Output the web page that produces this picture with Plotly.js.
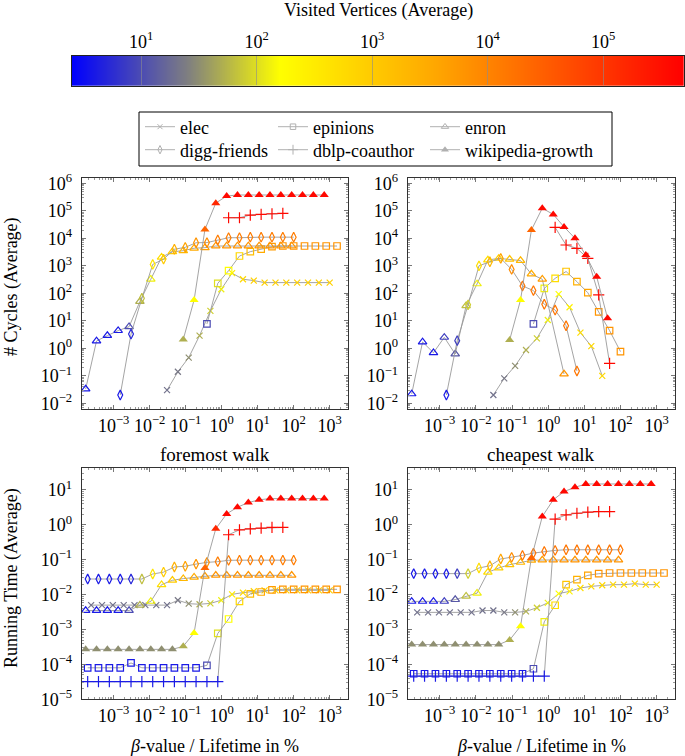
<!DOCTYPE html>
<html><head><meta charset="utf-8">
<script src="https://cdn.plot.ly/plotly-3.0.1.min.js"></script>
<style>html,body{margin:0;padding:0;background:#fff}#chart{width:685px;height:756px}</style>
</head><body><div id="chart"></div>
<script>
const N = null;
const FONT = '"Liberation Serif", "DejaVu Serif", serif';

// ---------- colour bar (log10 of visited vertices) ----------
const colorbarLogRange = [0.398, 5.70];
const colorbarTickVals = [1, 2, 3, 4, 5];
const colorbarTickText = ['10<sup>1</sup>', '10<sup>2</sup>', '10<sup>3</sup>', '10<sup>4</sup>', '10<sup>5</sup>'];

// ---------- axis ticks ----------
const xTickVals = [1e-3, 1e-2, 1e-1, 1, 10, 100, 1000];
const xTickText = ['10<sup>−3</sup>', '10<sup>−2</sup>', '10<sup>−1</sup>', '10<sup>0</sup>', '10<sup>1</sup>', '10<sup>2</sup>', '10<sup>3</sup>'];
const cycleTickVals = [1e-2, 1e-1, 1, 10, 1e2, 1e3, 1e4, 1e5, 1e6];
const cycleTickText = ['10<sup>−2</sup>', '10<sup>−1</sup>', '10<sup>0</sup>', '10<sup>1</sup>', '10<sup>2</sup>', '10<sup>3</sup>', '10<sup>4</sup>', '10<sup>5</sup>', '10<sup>6</sup>'];
const timeTickVals = [1e-5, 1e-4, 1e-3, 1e-2, 1e-1, 1, 10];
const timeTickText = ['10<sup>−5</sup>', '10<sup>−4</sup>', '10<sup>−3</sup>', '10<sup>−2</sup>', '10<sup>−1</sup>', '10<sup>0</sup>', '10<sup>1</sup>'];

// ---------- data: elec ----------
const elecBeta = [0.000238,0.000477,0.000954,0.00191,0.00381,0.00763,0.0153,0.0305,0.061,0.122,0.244,0.488,0.977,1.95,3.91,7.81,15.6,31.3,62.5,125,250,500,1000];
const elecForemostVisited = [1.3,1.3,1.3,1.3,1.3,1.3,1.3,1.3,1.35,1.5,1.7,1.9,2.1,2.5,2.8,2.9,2.9,2.9,2.9,2.9,2.9,2.9,2.9];
const elecForemostCycles = [N,N,N,N,N,N,N,0.030,0.14,0.46,2.9,23,140,540,325,290,245,245,245,245,245,245,245];
const elecForemostTime = [0.0050,0.0050,0.0050,0.0050,0.0050,0.0050,0.0050,0.0050,0.0069,0.0055,0.0053,0.0056,0.0069,0.0102,0.0114,0.0125,0.0133,0.0133,0.0133,0.0133,0.0133,0.0133,0.0133];
const elecCheapestVisited = [1.3,1.3,1.3,1.3,1.3,1.3,1.3,1.3,1.35,1.5,1.7,1.9,2.1,2.2,2.4,2.7,2.8,2.8,2.8,2.8,2.8,2.8,2.8];
const elecCheapestCycles = [N,N,N,N,N,N,N,0.020,0.081,0.23,0.87,2.3,10.7,94,31,3.7,1.2,0.10,N,N,N,N,N];
const elecCheapestTime = [0.0031,0.0031,0.0031,0.0031,0.0031,0.0031,0.0035,0.0035,0.0031,0.0031,0.0033,0.0042,0.0058,0.0107,0.0124,0.0155,0.0173,0.0185,0.0193,0.0193,0.0206,0.0193,0.0193];

// ---------- data: epinions ----------
const epinionsBeta = [0.000191,0.000381,0.000763,0.00153,0.00305,0.0061,0.0122,0.0244,0.0488,0.0977,0.195,0.391,0.781,1.56,3.13,6.25,12.5,25,50,100,200,400,800,1600];
const epinionsForemostVisited = [0.6,0.6,0.6,0.6,0.6,0.6,0.6,0.6,0.6,0.6,0.6,1.0,2.0,2.2,2.8,3.2,3.5,3.7,3.8,3.8,3.8,3.8,3.8,3.8];
const epinionsForemostCycles = [N,N,N,N,N,N,N,N,N,N,N,7.7,230,665,2270,3270,4070,4960,5250,5250,5250,5250,5250,5250];
const epinionsForemostTime = [8.0e-5,8.0e-5,8.0e-5,8.0e-5,1.1e-4,8.0e-5,8.0e-5,8.0e-5,8.0e-5,8.0e-5,8.0e-5,9.4e-5,7.7e-4,2.0e-3,6.4e-3,1.05e-2,1.19e-2,1.36e-2,1.42e-2,1.42e-2,1.42e-2,1.42e-2,1.42e-2,1.42e-2];
const epinionsCheapestVisited = [0.6,0.6,0.6,0.6,0.6,0.6,0.6,0.6,0.6,0.6,0.6,1.0,2.1,2.7,3.1,3.4,3.6,3.8,3.8,3.8,3.8,3.8,3.8,3.8];
const epinionsCheapestCycles = [N,N,N,N,N,N,N,N,N,N,N,7.7,150,350,620,265,105,21,4.4,0.76,N,N,N,N];
const epinionsCheapestTime = [5.4e-5,5.4e-5,5.4e-5,5.4e-5,5.4e-5,5.4e-5,5.4e-5,5.4e-5,5.4e-5,5.4e-5,5.4e-5,7.5e-5,1.66e-3,4.95e-3,0.0193,0.0268,0.0357,0.0398,0.0416,0.0416,0.0416,0.0416,0.0416,0.0416];

// ---------- data: enron ----------
const enronBeta = [0.000168,0.000336,0.000672,0.00134,0.00269,0.00538,0.0108,0.0215,0.043,0.086,0.172,0.344,0.688,1.38,2.75,5.51,11,22,44,88.1];
const enronForemostVisited = [0.6,0.6,0.6,0.6,1.0,1.7,2.1,2.7,3.0,3.3,3.5,3.7,3.8,3.8,3.8,3.8,3.8,3.8,3.8,3.8];
const enronForemostCycles = [0.033,1.85,2.9,4.4,6.1,50,325,2040,3240,3540,4360,4570,5250,5250,5250,5250,5250,5250,5250,5250];
const enronForemostTime = [3.5e-3,3.5e-3,3.5e-3,3.5e-3,3.5e-3,4.95e-3,6.4e-3,0.0193,0.0257,0.0287,0.0315,0.0334,0.0357,0.0357,0.0357,0.0357,0.0357,0.0357,0.0357,0.0357];
const enronCheapestVisited = [0.6,0.6,0.6,0.9,1.1,1.8,2.1,2.7,2.9,3.1,3.3,3.5,3.7,3.8,3.8,3.8,3.8,3.8,3.8,3.8];
const enronCheapestCycles = [0.022,1.7,0.69,2.5,0.62,35,220,1620,1860,1730,1550,500,325,N,0.116,N,N,N,N,N];
const enronCheapestTime = [6.4e-3,6.4e-3,6.4e-3,6.4e-3,7.2e-3,9.0e-3,0.011,0.0435,0.058,0.072,0.084,0.096,0.098,0.098,0.098,0.098,0.098,0.098,0.098,0.098];

// ---------- data: digg-friends ----------
const diggBeta = [0.000191,0.000381,0.000763,0.00153,0.00305,0.0061,0.0122,0.0244,0.0488,0.0977,0.195,0.391,0.781,1.56,3.13,6.25,12.5,25,50,100];
const diggForemostVisited = [0.6,0.6,0.6,0.6,0.7,1.8,2.6,3.0,3.4,3.6,3.8,3.9,4.1,4.1,4.1,4.1,4.1,4.1,4.1,4.1];
const diggForemostCycles = [N,N,N,0.02,3.3,66,1120,1750,4000,4700,6900,7000,8700,10500,10500,11000,11000,11000,11000,11000];
const diggForemostTime = [0.028,0.028,0.028,0.028,0.028,0.028,0.039,0.044,0.062,0.065,0.075,0.084,0.088,0.096,0.097,0.097,0.097,0.097,0.097,0.097];
const diggCheapestVisited = [0.6,0.6,0.6,0.6,0.9,1.9,2.7,3.3,3.6,3.9,4.2,4.2,4.2,4.2,4.2,4.2,4.2,4.2,4.2,4.2];
const diggCheapestCycles = [N,N,N,0.02,1.9,38,1000,1400,1860,740,185,126,40,24.7,6.6,0.15,N,N,N,N];
const diggCheapestTime = [0.04,0.04,0.04,0.04,0.04,0.04,0.058,0.067,0.105,0.117,0.133,0.155,0.173,0.185,0.193,0.193,0.193,0.193,0.193,0.193];

// ---------- data: dblp-coauthor ----------
const dblpBeta = [0.000191,0.000381,0.000763,0.00153,0.00305,0.0061,0.0122,0.0244,0.0488,0.0977,0.195,0.391,0.781,1.56,3.13,6.25,12.5,25,50];
const dblpForemostVisited = [0.6,0.6,0.6,0.6,0.6,0.6,0.6,0.6,0.6,0.6,0.6,0.6,0.6,5.6,5.6,5.6,5.6,5.6,5.6];
const dblpForemostCycles = [N,N,N,N,N,N,N,N,N,N,N,N,N,56000,56000,70000,74000,78000,80000];
const dblpForemostTime = [3.2e-5,3.2e-5,3.2e-5,3.2e-5,3.2e-5,3.2e-5,3.2e-5,3.2e-5,3.2e-5,3.2e-5,3.2e-5,3.2e-5,3.2e-5,0.52,0.72,0.77,0.80,0.84,0.84];
const dblpCheapestVisited = [0.6,0.6,0.6,0.6,0.6,0.6,0.6,0.6,0.6,0.6,0.6,0.6,0.6,5.6,5.6,5.6,5.6,5.6,5.6];
const dblpCheapestCycles = [N,N,N,N,N,N,N,N,N,N,N,N,N,25000,5700,4300,1860,87,0.285];
const dblpCheapestTime = [4.6e-5,4.6e-5,4.6e-5,4.6e-5,4.6e-5,4.6e-5,4.6e-5,4.6e-5,4.6e-5,4.6e-5,4.6e-5,4.6e-5,4.6e-5,1.45,1.93,2.15,2.3,2.4,2.4];

// ---------- data: wikipedia-growth ----------
const wikiBeta = [0.000168,0.000336,0.000672,0.00134,0.00269,0.00538,0.0108,0.0215,0.043,0.086,0.172,0.344,0.688,1.38,2.75,5.51,11,22,44,88.1,176,352,705];
const wikiForemostVisited = [1.5,1.5,1.5,1.5,1.5,1.5,1.5,1.5,1.5,1.7,2.2,4.4,5.2,5.6,5.6,5.6,5.6,5.6,5.6,5.6,5.6,5.6,5.6];
const wikiForemostCycles = [N,N,N,N,N,N,N,N,N,2.1,57,21000,190000,345000,376000,376000,376000,376000,376000,376000,376000,376000,376000];
const wikiForemostTime = [2.7e-4,2.7e-4,2.7e-4,2.7e-4,2.7e-4,2.7e-4,2.7e-4,2.7e-4,2.7e-4,3.3e-4,8.0e-4,0.058,0.77,2.06,3.2,4.35,5.2,5.65,5.65,5.65,5.65,5.65,5.65];
const wikiCheapestVisited = [1.5,1.5,1.5,1.5,1.5,1.5,1.5,1.5,1.5,1.7,2.2,4.4,5.6,5.6,5.6,5.6,5.6,5.6,5.6,5.6,5.6,5.6,5.6];
const wikiCheapestCycles = [N,N,N,N,N,N,N,N,N,2.0,57,20000,124000,74000,26000,10000,2450,400,12.3,N,N,N,N];
const wikiCheapestTime = [3.7e-4,3.7e-4,3.7e-4,3.7e-4,3.7e-4,3.7e-4,3.7e-4,3.7e-4,3.7e-4,5.0e-4,1.24e-3,0.112,1.73,5.2,9.0,11.9,14.8,14.8,14.8,14.8,14.8,14.8,14.8];

// ---------- series bookkeeping ----------
const seriesNames = ['elec', 'epinions', 'enron', 'digg-friends', 'dblp-coauthor', 'wikipedia-growth'];
const series = [
  {beta: elecBeta, f: [elecForemostVisited, elecForemostCycles, elecForemostTime], c: [elecCheapestVisited, elecCheapestCycles, elecCheapestTime]},
  {beta: epinionsBeta, f: [epinionsForemostVisited, epinionsForemostCycles, epinionsForemostTime], c: [epinionsCheapestVisited, epinionsCheapestCycles, epinionsCheapestTime]},
  {beta: enronBeta, f: [enronForemostVisited, enronForemostCycles, enronForemostTime], c: [enronCheapestVisited, enronCheapestCycles, enronCheapestTime]},
  {beta: diggBeta, f: [diggForemostVisited, diggForemostCycles, diggForemostTime], c: [diggCheapestVisited, diggCheapestCycles, diggCheapestTime]},
  {beta: dblpBeta, f: [dblpForemostVisited, dblpForemostCycles, dblpForemostTime], c: [dblpCheapestVisited, dblpCheapestCycles, dblpCheapestTime]},
  {beta: wikiBeta, f: [wikiForemostVisited, wikiForemostCycles, wikiForemostTime], c: [wikiCheapestVisited, wikiCheapestCycles, wikiCheapestTime]}
];

// ---------- styles ----------
const symbols = ['x-thin-open', 'square-open', 'triangle-up-open', 'diamond-tall-open', 'cross-thin-open', 'triangle-up'];
const sizes = [6, 6.5, 7.5, 7, 8, 8];
const colorscale = [[0, 'rgb(0,0,255)'], [0.19, 'rgb(128,128,128)'], [0.34, 'rgb(255,255,0)'], [0.6, 'rgb(255,165,0)'], [1, 'rgb(255,0,0)']];
const LINE = '#9a9a9a';

const W = 685, H = 756;
const fx = p => p / W, fy = p => 1 - p / H;

const traces = [];
// colour bar drawn as a smooth heatmap on its own axis
traces.push({type: 'heatmap', x: colorbarLogRange, y: [0, 1], z: [colorbarLogRange, colorbarLogRange],
  zmin: colorbarLogRange[0], zmax: colorbarLogRange[1], colorscale: colorscale, zsmooth: 'best',
  showscale: false, xaxis: 'x5', yaxis: 'y5', hoverinfo: 'skip', showlegend: false});

const panels = [
  {walk: 'f', metric: 1, xa: 'x', ya: 'y'},
  {walk: 'c', metric: 1, xa: 'x2', ya: 'y2'},
  {walk: 'f', metric: 2, xa: 'x3', ya: 'y3'},
  {walk: 'c', metric: 2, xa: 'x4', ya: 'y4'}
];
panels.forEach(p => {
  series.forEach((s, k) => {
    const d = s[p.walk];
    const filled = symbols[k] === 'triangle-up';
    traces.push({
      type: 'scatter', mode: 'lines+markers', x: s.beta, y: d[p.metric], connectgaps: true,
      xaxis: p.xa, yaxis: p.ya, showlegend: false, hoverinfo: 'x+y',
      line: {color: LINE, width: 0.9},
      marker: {symbol: symbols[k], size: sizes[k], color: d[0], colorscale: colorscale,
        cmin: colorbarLogRange[0], cmax: colorbarLogRange[1], line: {width: filled ? 0 : 1.2}}
    });
  });
});

// legend entries (grey samples), one legend per slot to mimic the 3x2 table
const legendSlots = [[140, 127], [273, 127], [425, 127], [140, 150], [273, 150], [425, 150]];
const layoutLegends = {};
seriesNames.forEach((nm, k) => {
  const key = k === 0 ? 'legend' : 'legend' + (k + 1);
  traces.push({type: 'scatter', mode: 'lines+markers', x: [N], y: [N], name: nm, xaxis: 'x', yaxis: 'y',
    legend: key, showlegend: true, line: {color: '#b0b0b0', width: 1},
    marker: {symbol: symbols[k], size: sizes[k] - 1, color: '#b0b0b0', line: {width: symbols[k] === 'triangle-up' ? 0 : 1}}});
  layoutLegends[key] = {x: fx(legendSlots[k][0]), y: fy(legendSlots[k][1]), xanchor: 'left', yanchor: 'middle',
    orientation: 'h', bgcolor: 'rgba(0,0,0,0)', borderwidth: 0, itemwidth: 30,
    font: {family: FONT, size: 18, color: '#000'}};
});

function mainAxis(domain, anchor, range, vals, text, extra) {
  return Object.assign({
    domain: domain, anchor: anchor, type: 'log', range: range,
    tickmode: 'array', tickvals: vals, ticktext: text,
    ticks: 'inside', ticklen: 4, tickwidth: 1, tickcolor: '#777',
    minor: {ticks: 'inside', ticklen: 2, tickwidth: 1, tickcolor: '#999', dtick: 'D1'},
    mirror: 'allticks', showline: true, linecolor: '#333', linewidth: 1,
    showgrid: false, zeroline: false,
    tickfont: {family: FONT, size: 18, color: '#000'}
  }, extra || {});
}
const XL = [fx(81.7), fx(347.7)], XR = [fx(407.7), fx(674.7)];
const YT = [fy(409), fy(178.3)], YB = [fy(699.3), fy(468.3)];
const xRange = [-3.885, 3.5];
const yCyc = [-2.207, 6.182], yTime = [-5.0, 1.62];

const ann = (text, x, y, extra) => Object.assign({text: text, x: x, y: y, xref: 'paper', yref: 'paper',
  showarrow: false, xanchor: 'center', yanchor: 'middle', font: {family: FONT, size: 18, color: '#000'}}, extra || {});

const layout = Object.assign({
  width: W, height: H, margin: {l: 0, r: 0, t: 0, b: 0},
  paper_bgcolor: '#fff', plot_bgcolor: '#fff', showlegend: true,
  font: {family: FONT, color: '#000'},
  xaxis: mainAxis(XL, 'y', xRange, xTickVals, xTickText),
  yaxis: mainAxis(YT, 'x', yCyc, cycleTickVals, cycleTickText, {ticklabelstandoff: 5}),
  xaxis2: mainAxis(XR, 'y2', xRange, xTickVals, xTickText),
  yaxis2: mainAxis(YT, 'x2', yCyc, cycleTickVals, cycleTickText, {ticklabelstandoff: 5}),
  xaxis3: mainAxis(XL, 'y3', xRange, xTickVals, xTickText),
  yaxis3: mainAxis(YB, 'x3', yTime, timeTickVals, timeTickText, {ticklabelstandoff: 5}),
  xaxis4: mainAxis(XR, 'y4', xRange, xTickVals, xTickText),
  yaxis4: mainAxis(YB, 'x4', yTime, timeTickVals, timeTickText, {ticklabelstandoff: 5}),
  xaxis5: {domain: [fx(71.7), fx(684)], anchor: 'y5', range: colorbarLogRange, side: 'top',
    tickmode: 'array', tickvals: colorbarTickVals, ticktext: colorbarTickText,
    ticks: 'inside', ticklen: 29, tickwidth: 1, tickcolor: 'rgba(140,140,140,0.6)',
    showline: true, mirror: true, linecolor: '#222', linewidth: 1, showgrid: false, zeroline: false,
    layer: 'above traces', fixedrange: true, tickfont: {family: FONT, size: 18, color: '#000'}},
  yaxis5: {domain: [fy(86), fy(55.7)], anchor: 'x5', range: [0, 1], showticklabels: false, ticks: '',
    showline: true, mirror: true, linecolor: '#222', linewidth: 1, showgrid: false, zeroline: false, fixedrange: true},
  shapes: [{type: 'rect', xref: 'paper', yref: 'paper', x0: fx(139), x1: fx(612), y0: fy(166), y1: fy(112),
    line: {color: '#000', width: 1}, fillcolor: 'rgba(0,0,0,0)'}],
  annotations: [
    ann('Visited Vertices (Average)', fx(378), fy(11)),
    ann('# Cycles (Average)', fx(11), fy(287), {textangle: -90}),
    ann('Running Time (Average)', fx(11), fy(578), {textangle: -90}),
    ann('foremost walk', fx(214.7), fy(454), {font: {family: FONT, size: 19, color: '#000'}}),
    ann('cheapest walk', fx(541.2), fy(454), {font: {family: FONT, size: 19, color: '#000'}}),
    ann('<i>β</i>-value / Lifetime in %', fx(214.7), fy(746)),
    ann('<i>β</i>-value / Lifetime in %', fx(541.2), fy(746))
  ]
}, layoutLegends);

Plotly.newPlot('chart', traces, layout, {displayModeBar: false, staticPlot: true});
</script></body></html>
